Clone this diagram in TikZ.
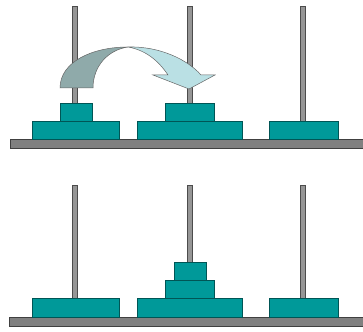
\documentclass[tikz,border=0pt]{standalone}
\usetikzlibrary{positioning}
\definecolor{diskteal}{RGB}{0,153,153}
\definecolor{diskedge}{RGB}{0,85,85}
\definecolor{basegray}{RGB}{128,128,128}
\definecolor{pegfill}{RGB}{150,150,150}
\definecolor{arrowdark}{RGB}{143,170,170}
\definecolor{arrowlight}{RGB}{186,224,228}
\tikzset{
  disk/.style={draw=diskedge, fill=diskteal, line width=0.5pt, inner sep=0pt},
  base/.style={draw=black!75, fill=basegray, line width=0.6pt},
  peg/.style={draw=black!70, fill=pegfill, line width=0.6pt},
  movearrow/.style={draw=black!60, line width=0.5pt}
}
\begin{document}
\begin{tikzpicture}[x=1pt, y=-1pt]
    \useasboundingbox (0,0) rectangle (363,331);
    % bases of both panels
    \draw[base] (10,139) rectangle (363,148);
    \draw[base] (9,317) rectangle (363,326);
    % pegs
    \foreach \x in {75, 189.5, 303} {
      \draw[peg] (\x-2.5,6) rectangle (\x+2.5,139);
      \draw[peg] (\x-2.5,185) rectangle (\x+2.5,317);
    }
    % disks: x/y/width/height
    \foreach \x/\y/\w/\h [count=\i] in {75.5/130/87/18, 189.5/130/105/18, 303.5/130/69/18,
        76/112/32/18, 189.5/112/49/18,
        75.5/307.5/87/19, 189.5/307.5/105/19, 303.5/307.5/69/19,
        189.5/289/49/18, 190/271/32/18}
      \node[disk, minimum width=\w pt, minimum height=\h pt] (disk\i) at (\x,\y) {};
    % curved move arrow
    \fill[arrowdark, movearrow] (60,88) .. controls (60,62) and (92,47) .. (128,47)
      .. controls (108,50) and (93,66) .. (93,88) -- cycle;
    \fill[arrowlight, movearrow] (128,47) .. controls (160,46) and (188,60) .. (201,75)
      -- (215,75) -- (189,89) -- (153,75) -- (168,75)
      .. controls (158,60) and (145,50) .. (128,47) -- cycle;
  \end{tikzpicture}
\end{document}
